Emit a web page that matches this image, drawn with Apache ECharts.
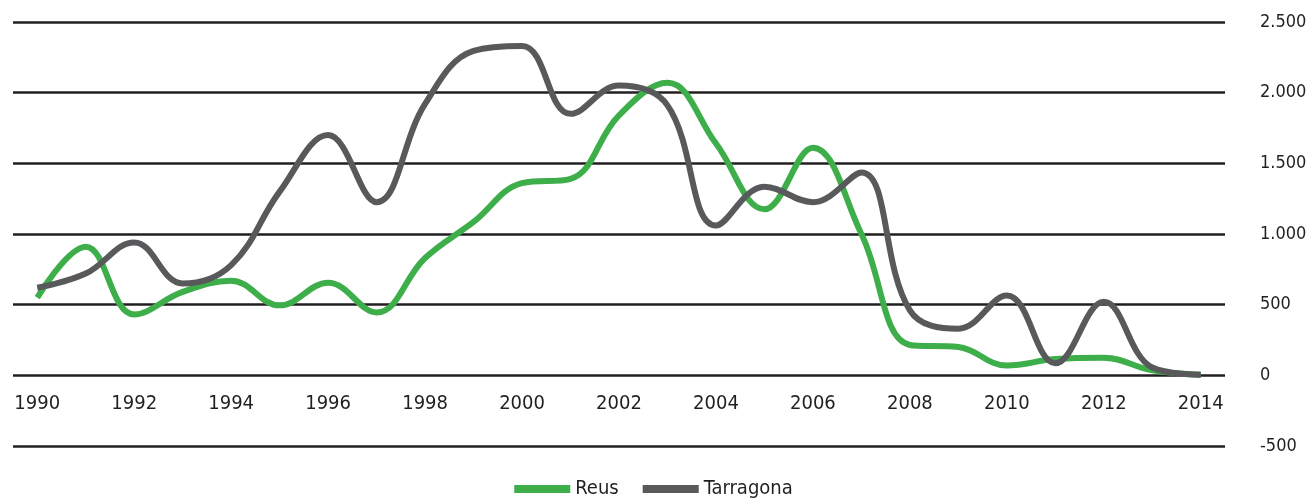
<!DOCTYPE html>
<html>
<head>
<meta charset="utf-8">
<script src="https://cdn.jsdelivr.net/npm/echarts@6/dist/echarts.min.js"></script>
<style>
  html, body { margin: 0; padding: 0; background: #fff; }
  #chart { width: 1307px; height: 500px; }
</style>
</head>
<body>
<div id="chart"></div>
<script>
var years = ['1990', '1991', '1992', '1993', '1994', '1995', '1996', '1997', '1998', '1999',
    '2000', '2001', '2002', '2003', '2004', '2005', '2006', '2007', '2008', '2009',
    '2010', '2011', '2012', '2013', '2014'];

var reus = [550, 910, 430, 590, 670, 495, 655, 445, 830, 1085,
    1360, 1390, 1840, 2070, 1640, 1175, 1610, 1000, 215, 200,
    70, 115, 125, 35, 5];

var tarragona = [620, 720, 940, 650, 780, 1300, 1700, 1225, 1920, 2295,
    2330, 1850, 2050, 1910, 1060, 1335, 1225, 1435, 460, 330,
    565, 85, 520, 55, 5];

var FONT = '"DejaVu Sans Condensed", "Liberation Sans", sans-serif';
var TXT = '#231f20';

// 2500 -> 2.500
function dots(v) {
    return String(v).replace(/\B(?=(\d{3})+(?!\d))/g, '.');
}

var chart = echarts.init(document.getElementById('chart'));

var option = {
    animation: false,
    grid: {
        left: 13,
        right: 82,
        top: 22,
        bottom: 54,
        outerBoundsMode: 'none'
    },
    legend: {
        bottom: -4,
        left: 'center',
        itemWidth: 56,
        itemHeight: 8,
        itemGap: 24,
        icon: 'rect',
        textStyle: { fontFamily: FONT, fontSize: 20, color: TXT },
        data: ['Reus', 'Tarragona']
    },
    xAxis: {
        type: 'category',
        data: years,
        boundaryGap: true,
        // labels sit just under the zero line, not at the bottom of the grid
        offset: -71,
        axisLine: { show: false, onZero: false },
        axisTick: { show: false },
        axisLabel: {
            interval: 1,
            margin: 19,
            fontFamily: FONT,
            fontSize: 20,
            color: TXT
        }
    },
    yAxis: {
        type: 'value',
        position: 'right',
        min: -500,
        max: 2500,
        interval: 500,
        axisLine: { show: false },
        axisTick: { show: false },
        axisLabel: {
            align: 'left',
            margin: 35,
            padding: [10, 0, 0, 0],
            fontFamily: FONT,
            fontSize: 18,
            color: TXT,
            formatter: dots
        },
        splitLine: { lineStyle: { color: TXT, width: 2.5 } }
    },
    series: [
        {
            name: 'Reus',
            type: 'line',
            data: reus,
            smooth: 0.4,
            symbol: 'none',
            color: '#3dae49',
            lineStyle: { width: 6, color: '#3dae49' }
        },
        {
            name: 'Tarragona',
            type: 'line',
            data: tarragona,
            smooth: 0.4,
            symbol: 'none',
            color: '#58595b',
            lineStyle: { width: 6, color: '#58595b' }
        }
    ]
};

chart.setOption(option);
</script>
</body>
</html>
